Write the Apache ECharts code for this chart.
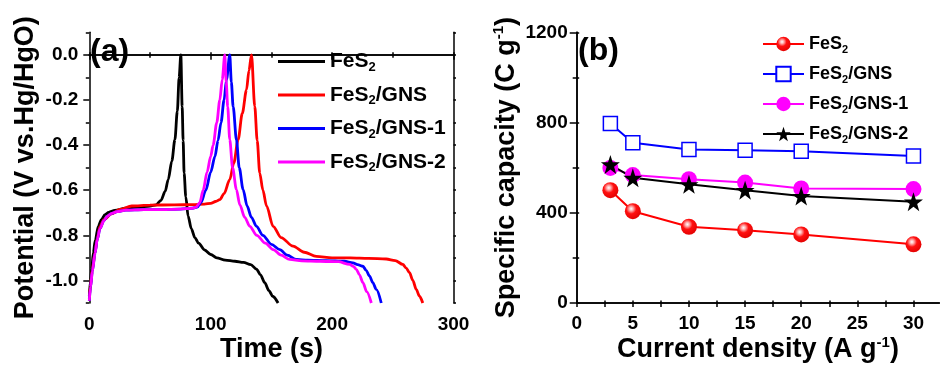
<!DOCTYPE html>
<html>
<head>
<meta charset="utf-8">
<script src="https://cdn.jsdelivr.net/npm/echarts@6/dist/echarts.min.js"></script>
<style>html,body{margin:0;padding:0;background:#fff;}#c{width:941px;height:367px;}</style>
</head>
<body>
<div id="c"></div>
<script>
// ---------- Panel (a): galvanostatic charge-discharge curves ----------
const fes2Time = [0, 1, 2, 3.3, 5, 7.4, 10, 12.9, 16, 21, 30, 40, 50, 55, 59, 62.5, 65, 68, 70.5, 72.5, 74, 75.4, 76.5, 77.3, 78.1, 79.5, 81.4, 84, 87, 90, 95, 100, 105, 112, 120, 127, 133, 137.7, 141, 144.5, 148, 151, 155.5];
const fes2Pot  = [-1.07, -1.0, -0.95, -0.877, -0.82, -0.76, -0.73, -0.708, -0.698, -0.69, -0.68, -0.675, -0.67, -0.665, -0.645, -0.605, -0.553, -0.47, -0.376, -0.25, -0.10, 0.0, -0.229, -0.38, -0.524, -0.63, -0.715, -0.77, -0.81, -0.835, -0.865, -0.885, -0.9, -0.91, -0.915, -0.92, -0.93, -0.95, -0.975, -1.01, -1.045, -1.07, -1.1];

const gnsTime = [0, 1, 2.5, 4.7, 6.5, 8.8, 12, 18.4, 25, 35, 50, 70, 85, 95, 100, 104, 107.5, 111, 115.7, 119, 122.6, 126, 129.5, 131.5, 133.6, 136.3, 138.3, 140.4, 143, 146, 151.4, 158, 167.8, 177, 187, 200, 215, 230, 244.6, 252, 258.3, 261, 263.8, 266.5, 269.3, 272, 274.7];
const gnsPot  = [-1.08, -1.02, -0.95, -0.877, -0.815, -0.76, -0.73, -0.705, -0.685, -0.67, -0.666, -0.665, -0.664, -0.662, -0.658, -0.65, -0.642, -0.615, -0.553, -0.48, -0.376, -0.26, -0.155, -0.07, 0.0, -0.229, -0.38, -0.524, -0.6, -0.67, -0.76, -0.81, -0.848, -0.875, -0.893, -0.9, -0.9, -0.902, -0.905, -0.912, -0.929, -0.945, -0.966, -1.0, -1.04, -1.07, -1.1];

const gns1Time = [0, 1, 2.5, 4.7, 6.5, 8.8, 12, 15, 18.4, 23, 30, 45, 60, 75, 85, 89, 92, 96, 100, 103.5, 106, 108.5, 111, 113, 115.7, 117, 118.5, 121.2, 123.5, 126.7, 130, 133.5, 137.7, 143, 150, 156.9, 163, 170.6, 180, 195, 210, 217.2, 221, 225.4, 228, 230.9, 233.5, 236.4, 240.5];
const gns1Pot  = [-1.09, -1.03, -0.96, -0.88, -0.82, -0.77, -0.735, -0.715, -0.703, -0.695, -0.688, -0.686, -0.686, -0.684, -0.68, -0.675, -0.655, -0.6, -0.52, -0.45, -0.38, -0.3, -0.2, -0.11, 0.0, -0.12, -0.23, -0.376, -0.5, -0.597, -0.67, -0.72, -0.76, -0.8, -0.84, -0.863, -0.888, -0.907, -0.91, -0.912, -0.915, -0.922, -0.93, -0.937, -0.955, -0.981, -1.01, -1.04, -1.1];

const gns2Time = [0, 1, 2.5, 4.7, 6.5, 8.8, 12, 15, 18.4, 23, 30, 45, 60, 75, 85, 88, 91, 93.8, 97, 100, 102, 105, 107.5, 109.5, 111.6, 112.8, 114, 115.7, 118, 121.2, 124, 128, 132.2, 138, 145, 151.4, 158, 165, 175, 190, 205, 214.5, 217.5, 220, 222.5, 225.4, 228.5, 232.3];
const gns2Pot  = [-1.09, -1.03, -0.96, -0.88, -0.82, -0.77, -0.735, -0.715, -0.703, -0.695, -0.688, -0.686, -0.686, -0.684, -0.68, -0.675, -0.655, -0.6, -0.52, -0.45, -0.4, -0.3, -0.2, -0.11, 0.0, -0.12, -0.23, -0.376, -0.5, -0.597, -0.665, -0.72, -0.76, -0.8, -0.835, -0.863, -0.888, -0.907, -0.913, -0.915, -0.917, -0.929, -0.938, -0.951, -0.975, -1.01, -1.05, -1.1];

const timeLabels = [0, 100, 200, 300];
const potLabels = [-1.0, -0.8, -0.6, -0.4, -0.2, 0.0];
const potMinorTicks = [-1.1, -0.9, -0.7, -0.5, -0.3, -0.1, 0.1];

// ---------- Panel (b): specific capacity vs current density ----------
const currentDensity = [3, 5, 10, 15, 20, 30];
const capFeS2 = [500, 407, 338, 323, 304, 260];
const capGNS  = [796, 710, 680, 677, 673, 652];
const capGNS1 = [599, 567, 549, 534, 508, 505];
const capGNS2 = [614, 555, 526, 500, 474, 449];

const densityLabels = [0, 5, 10, 15, 20, 25, 30];
const densityTicks = [0, 2.5, 5, 7.5, 10, 12.5, 15, 17.5, 20, 22.5, 25, 27.5, 30];
const capLabels = [0, 400, 800, 1200];

const seriesNamesA = ['FeS2', 'FeS2/GNS', 'FeS2/GNS-1', 'FeS2/GNS-2'];
const seriesNamesB = ['FeS2', 'FeS2/GNS', 'FeS2/GNS-1', 'FeS2/GNS-2'];

// ---------- build ----------
const FONT = '"Liberation Sans", Arial, sans-serif';
const zip = (a, b) => a.map((v, i) => [v, b[i]]);
const richName = n => {
  const rest = n.replace('FeS2', '');
  return '{m|FeS}{s|2}' + (rest ? '{m|' + rest + '}' : '');
};
const axisLineStyle = { lineStyle: { color: '#000', width: 1.5 } };
const tickStyle = { lineStyle: { color: '#000', width: 1.5 } };

const chart = echarts.init(document.getElementById('c'), null, { renderer: 'canvas' });

const gridA = { left: 89.3, top: 32.3, width: 364.2, height: 270.7, outerBoundsMode: 'none', containLabel: false };
const gridB = { left: 576.7, top: 32.3, width: 362.6, height: 270.7, outerBoundsMode: 'none', containLabel: false };

const labelStyle = { color: '#000', fontSize: 19, fontWeight: 'bold', fontFamily: FONT };
const nameStyle = {
  color: '#000', fontSize: 27, fontWeight: 'bold', fontFamily: FONT,
  rich: {
    n: { fontSize: 27, fontWeight: 'bold', fontFamily: FONT, color: '#000', lineHeight: 30 },
    sup: { fontSize: 15, fontWeight: 'bold', fontFamily: FONT, color: '#000', lineHeight: 15, verticalAlign: 'top' }
  }
};

const symbolStar = 'path://M50,0 L61.8,35.1 L98.1,35.1 L68.8,56.8 L79.4,91 L50,70 L20.6,91 L31.2,56.8 L1.9,35.1 L38.2,35.1 Z';

const lineA = (name, color, t, v) => ({
  name: 'a:' + name, type: 'line', xAxisIndex: 0, yAxisIndex: 0,
  data: zip(t, v), symbol: 'none', smooth: 0.3, smoothMonotone: 'x',
  lineStyle: { color, width: 2.8 }, itemStyle: { color }, z: 3
});

const legendRich = (fs, lh) => ({
  m: { fontSize: fs, fontWeight: 'bold', fontFamily: FONT, color: '#000', lineHeight: lh },
  s: { fontSize: Math.round(fs * 0.62), fontWeight: 'bold', fontFamily: FONT, color: '#000', lineHeight: Math.round(fs * 0.62), verticalAlign: 'bottom' }
});

const option = {
  backgroundColor: '#fff',
  animation: false,
  grid: [gridA, gridB],
  graphic: [
    { type: 'text', left: 90, top: 36, style: { text: '(a)', font: 'bold 32px ' + FONT, fill: '#000' } },
    { type: 'text', left: 578, top: 35, style: { text: '(b)', font: 'bold 32px ' + FONT, fill: '#000' } }
  ],
  legend: [
    {
      orient: 'vertical', left: 273, top: 46, itemWidth: 47, itemHeight: 3, itemGap: 11, icon: 'rect',
      data: seriesNamesA.map(n => 'a:' + n),
      formatter: n => richName(n.slice(2)),
      textStyle: { rich: legendRich(21, 24) },
      selectedMode: false
    },
    {
      orient: 'vertical', left: 757, top: 30, itemWidth: 41, itemHeight: 18, itemGap: 10,
      data: seriesNamesB.map(n => 'b:' + n),
      formatter: n => richName(n.slice(2)),
      textStyle: { rich: legendRich(18, 22) },
      selectedMode: false
    }
  ],
  xAxis: [
    { // a bottom
      type: 'value', gridIndex: 0, position: 'bottom', min: 0, max: 300, interval: 100,
      axisLine: axisLineStyle, axisTick: Object.assign({ length: 5 }, tickStyle),
      minorTick: { show: true, splitNumber: 2, length: 3, lineStyle: { color: '#000', width: 1.5 } },
      splitLine: { show: false },
      axisLabel: Object.assign({ margin: 12, formatter: v => String(v) }, labelStyle),
      name: 'Time (s)', nameLocation: 'middle', nameGap: 33, nameMoveOverlap: false, nameTextStyle: nameStyle
    },
    { // a top
      type: 'value', gridIndex: 0, position: 'top', min: 0, max: 300,
      axisLine: axisLineStyle,
      axisTick: Object.assign({ length: 2.5, customValues: [0, 50, 100, 150, 200, 250, 300] }, tickStyle),
      axisLabel: { show: false }, splitLine: { show: false }
    },
    { // b bottom
      type: 'value', gridIndex: 1, position: 'bottom', min: 0, max: 32.3,
      axisLine: axisLineStyle,
      axisTick: Object.assign({ length: 4, customValues: densityTicks }, tickStyle),
      splitLine: { show: false },
      axisLabel: Object.assign({ margin: 11, customValues: densityLabels, formatter: v => String(v) }, labelStyle),
      name: '{n|Current density (A g}{sup|-1}{n|)}', nameLocation: 'middle', nameGap: 32, nameMoveOverlap: false, nameTextStyle: nameStyle
    },
    { // b top
      type: 'value', gridIndex: 1, position: 'top', min: 0, max: 32.3,
      axisLine: axisLineStyle,
      axisTick: Object.assign({ length: 2.5, customValues: densityTicks }, tickStyle),
      axisLabel: { show: false }, splitLine: { show: false }
    }
  ],
  yAxis: [
    { // a left
      type: 'value', gridIndex: 0, position: 'left', min: -1.1, max: 0.1,
      axisLine: axisLineStyle,
      axisTick: Object.assign({ length: 6, customValues: potLabels }, tickStyle),
      splitLine: { show: false },
      axisLabel: Object.assign({ margin: 11, customValues: potLabels, formatter: v => v.toFixed(1) }, labelStyle),
      name: 'Potential (V vs.Hg/HgO)', nameLocation: 'middle', nameGap: 50, nameTextStyle: nameStyle
    },
    { // a left minor ticks
      type: 'value', gridIndex: 0, position: 'left', min: -1.1, max: 0.1,
      axisLine: { show: false },
      axisTick: Object.assign({ length: 3.5, customValues: potMinorTicks }, tickStyle),
      axisLabel: { show: false }, splitLine: { show: false }
    },
    { // a right
      type: 'value', gridIndex: 0, position: 'right', min: -1.1, max: 0.1,
      axisLine: axisLineStyle,
      axisTick: Object.assign({ length: 2.5, customValues: potLabels.concat(potMinorTicks) }, tickStyle),
      axisLabel: { show: false }, splitLine: { show: false }
    },
    { // b left
      type: 'value', gridIndex: 1, position: 'left', min: 0, max: 1200, interval: 400,
      axisLine: axisLineStyle, axisTick: Object.assign({ length: 7 }, tickStyle),
      minorTick: { show: true, splitNumber: 2, length: 4, lineStyle: { color: '#000', width: 1.5 } },
      splitLine: { show: false },
      axisLabel: Object.assign({ margin: 9, customValues: capLabels, formatter: v => String(v) }, labelStyle),
      name: '{n|Specific capacity (C g}{sup|-1}{n|)}', nameLocation: 'middle', nameGap: 55, nameTextStyle: nameStyle
    },
    { // b right
      type: 'value', gridIndex: 1, position: 'right', min: 0, max: 1200,
      axisLine: axisLineStyle,
      axisTick: Object.assign({ length: 2.5, customValues: [0, 200, 400, 600, 800, 1000, 1200] }, tickStyle),
      axisLabel: { show: false }, splitLine: { show: false }
    }
  ],
  series: [
    lineA(seriesNamesA[0], '#000000', fes2Time, fes2Pot),
    lineA(seriesNamesA[1], '#ff0000', gnsTime, gnsPot),
    lineA(seriesNamesA[2], '#0000ff', gns1Time, gns1Pot),
    lineA(seriesNamesA[3], '#ff00ff', gns2Time, gns2Pot),
    {
      name: 'b:' + seriesNamesB[0], type: 'line', xAxisIndex: 2, yAxisIndex: 3,
      data: zip(currentDensity, capFeS2), symbol: 'circle', symbolSize: 16,
      lineStyle: { color: '#ff0000', width: 2 },
      itemStyle: { color: { type: 'radial', x: 0.4, y: 0.35, r: 0.7, colorStops: [
        { offset: 0, color: '#ffffff' }, { offset: 0.18, color: '#ffb0b0' },
        { offset: 0.45, color: '#ff1010' }, { offset: 1, color: '#e00000' }] } }
    },
    {
      name: 'b:' + seriesNamesB[1], type: 'line', xAxisIndex: 2, yAxisIndex: 3,
      data: zip(currentDensity, capGNS), symbol: 'rect', symbolSize: 14,
      lineStyle: { color: '#0000ff', width: 2 },
      itemStyle: { color: '#ffffff', borderColor: '#0000ff', borderWidth: 1.5 }
    },
    {
      name: 'b:' + seriesNamesB[2], type: 'line', xAxisIndex: 2, yAxisIndex: 3,
      data: zip(currentDensity, capGNS1), symbol: 'circle', symbolSize: 16,
      lineStyle: { color: '#ff00ff', width: 2 },
      itemStyle: { color: '#ff00ff' }
    },
    {
      name: 'b:' + seriesNamesB[3], type: 'line', xAxisIndex: 2, yAxisIndex: 3,
      data: zip(currentDensity, capGNS2), symbol: symbolStar, symbolSize: 19,
      lineStyle: { color: '#000000', width: 2 },
      itemStyle: { color: '#000000' }
    }
  ]
};
chart.setOption(option);
</script>
</body>
</html>
